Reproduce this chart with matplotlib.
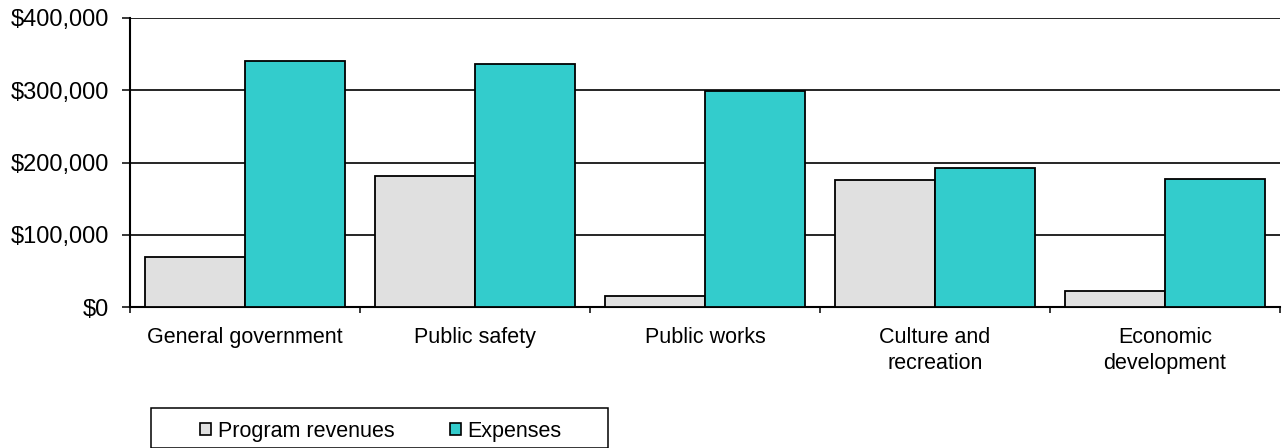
import matplotlib.pyplot as plt
from matplotlib.patches import Rectangle
from matplotlib.ticker import FuncFormatter
import numpy as np

plt.rcParams['font.family'] = ['Liberation Sans', 'DejaVu Sans']

categories = ['General government', 'Public safety', 'Public works',
              'Culture and\nrecreation', 'Economic\ndevelopment']
revenues = [70000, 181000, 16000, 176000, 23000]
expenses = [341000, 336500, 299000, 193000, 178000]

rev_color = '#E0E0E0'
exp_color = '#33CCCC'

fig = plt.figure(figsize=(12.86, 4.48), dpi=100)
ax = fig.add_axes([130/1286, 1-307.3/448, 1150/1286, 289.3/448])

x = np.arange(len(categories))
w = 100/230
ax.bar(x - w/2, revenues, w, color=rev_color, edgecolor='black', linewidth=1.3,
       label='Program revenues', zorder=3)
ax.bar(x + w/2, expenses, w, color=exp_color, edgecolor='black', linewidth=1.3,
       label='Expenses', zorder=3)

ax.set_xlim(-0.5, len(categories) - 0.5)
ax.set_ylim(0, 400000)
ax.set_yticks(np.arange(0, 400001, 100000))
ax.yaxis.set_major_formatter(FuncFormatter(lambda v, p: '${:,.0f}'.format(v)))
ax.grid(axis='y', color='black', linewidth=1.2, zorder=0)
ax.tick_params(axis='y', length=6, width=1.1, pad=9, labelsize=17)

# boundary ticks (major) and centred labels (minor)
ax.set_xticks(np.arange(-0.5, len(categories), 1))
ax.set_xticklabels([])
ax.tick_params(axis='x', which='major', length=4.5, width=1.1, direction='out')
ax.set_xticks(x, minor=True)
ax.set_xticklabels(categories, minor=True, fontsize=15.5, linespacing=1.35)
ax.tick_params(axis='x', which='minor', length=0, pad=14)

for s in ['top', 'right']:
    ax.spines[s].set_visible(False)
for s in ['left', 'bottom']:
    ax.spines[s].set_linewidth(1.5)

leg = fig.legend(loc='center', bbox_to_anchor=(381/1286, 1-431/448), ncol=2,
                 frameon=False, fontsize=15.5, handlelength=0.5, handleheight=0.5,
                 handletextpad=0.3, columnspacing=2.6)
for h in leg.legend_handles:
    h.set_linewidth(1.2)

fig.patches.append(Rectangle((150.7/1286, 0), 457/1286, 1-407.7/448,
                             transform=fig.transFigure, fill=False,
                             edgecolor='black', linewidth=1.1))

fig.savefig('out.png', dpi=100)
